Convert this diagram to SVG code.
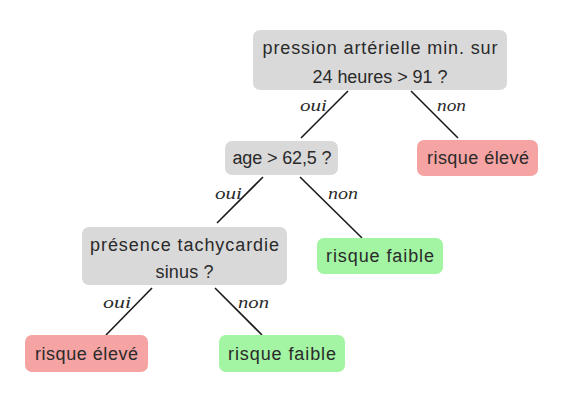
<svg xmlns="http://www.w3.org/2000/svg" width="562" height="402" viewBox="0 0 562 402">
<style>
.q{fill:#d9d9d9}
.hi{fill:#f5a3a3}
.lo{fill:#a3f5a3}
.t{font-family:"Liberation Sans",Arial,sans-serif;font-size:18px;fill:#2a2a2a;text-anchor:middle}
.l{font-family:"Liberation Serif","Times New Roman",serif;font-style:italic;font-size:17px;fill:#2a2a2a}
.e{stroke:#1a1a1a;stroke-width:1.6;fill:none}
</style>
<rect width="562" height="402" fill="#ffffff"/>
<g id="connectors">
<line class="e" x1="348" y1="91" x2="301" y2="138"/>
<line class="e" x1="411" y1="91" x2="458" y2="138"/>
<line class="e" x1="263" y1="177" x2="217" y2="223"/>
<line class="e" x1="300" y1="177" x2="362" y2="238"/>
<line class="e" x1="152" y1="288" x2="106" y2="335"/>
<line class="e" x1="215" y1="288" x2="262" y2="335"/>
<text class="l" x="300" y="111" textLength="27" lengthAdjust="spacingAndGlyphs">oui</text>
<text class="l" x="437" y="111" textLength="29" lengthAdjust="spacingAndGlyphs">non</text>
<text class="l" x="215" y="199" textLength="27" lengthAdjust="spacingAndGlyphs">oui</text>
<text class="l" x="328" y="199" textLength="30" lengthAdjust="spacingAndGlyphs">non</text>
<text class="l" x="103" y="308" textLength="28" lengthAdjust="spacingAndGlyphs">oui</text>
<text class="l" x="238" y="308" textLength="31" lengthAdjust="spacingAndGlyphs">non</text>
</g>
<g id="n_root">
<rect class="q" x="253" y="30" width="254" height="60" rx="7"/>
<text class="t" x="380" y="54" textLength="235" lengthAdjust="spacing">pression artérielle min. sur</text>
<text class="t" x="380" y="83" textLength="135" lengthAdjust="spacing">24 heures &gt; 91 ?</text>
</g>
<g id="n_high1">
<rect class="hi" x="417" y="140" width="121" height="36" rx="7"/>
<text class="t" x="478" y="164" textLength="102" lengthAdjust="spacing">risque élevé</text>
</g>
<g id="n_age">
<rect class="q" x="225" y="141" width="113" height="34" rx="7"/>
<text class="t" x="282" y="164" textLength="99" lengthAdjust="spacing">age &gt; 62,5 ?</text>
</g>
<g id="n_low1">
<rect class="lo" x="317" y="238" width="126" height="36" rx="7"/>
<text class="t" x="380" y="262" textLength="108" lengthAdjust="spacing">risque faible</text>
</g>
<g id="n_tach">
<rect class="q" x="82" y="227" width="205" height="58" rx="7"/>
<text class="t" x="184.5" y="251" textLength="189" lengthAdjust="spacing">présence tachycardie</text>
<text class="t" x="184.5" y="278" textLength="58" lengthAdjust="spacing">sinus ?</text>
</g>
<g id="n_high2">
<rect class="hi" x="25" y="335" width="123" height="37" rx="7"/>
<text class="t" x="86.5" y="360" textLength="103" lengthAdjust="spacing">risque élevé</text>
</g>
<g id="n_low2">
<rect class="lo" x="219" y="335" width="126" height="37" rx="7"/>
<text class="t" x="282" y="360" textLength="108" lengthAdjust="spacing">risque faible</text>
</g>
</svg>
